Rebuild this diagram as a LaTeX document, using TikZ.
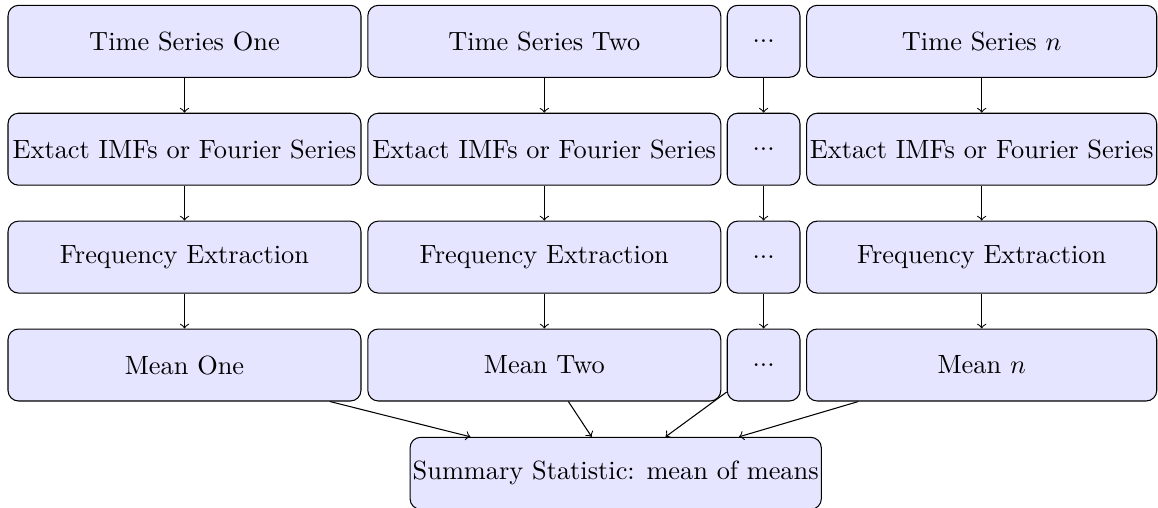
\documentclass[tikz,border=0pt]{standalone}
\usetikzlibrary{arrows}
\begin{document}
\begin{tikzpicture}[x=0.37936pt, y=-0.37936pt,
  box/.style={draw, fill=blue!10, rounded corners, minimum height=27.3pt, inner sep=1pt},
  wide/.style={box, minimum width=133.9pt},
  lastcol/.style={box, minimum width=132.8pt},
  narrow/.style={box, minimum width=27.6pt},
  flow/.style={->}]
\useasboundingbox (0,0) rectangle (1158,507);
% column centres (x) and row centres (y)
\def\ca{184.5}\def\cb{544.3}\def\cc{763.6}\def\cd{981.7}
\def\ra{41.3}\def\rb{149.2}\def\rc{257.1}\def\rd{365}
% row 1: inputs
\node[wide] (t1) at (\ca,\ra) {Time Series One};
\node[wide] (t2) at (\cb,\ra) {Time Series Two};
\node[narrow] (t3) at (\cc,\ra) {...};
\node[lastcol] (t4) at (\cd,\ra) {Time Series $n$};
% row 2: decomposition
\node[wide] (e1) at (\ca,\rb) {Extact IMFs or Fourier Series};
\node[wide] (e2) at (\cb,\rb) {Extact IMFs or Fourier Series};
\node[narrow] (e3) at (\cc,\rb) {...};
\node[lastcol] (e4) at (\cd,\rb) {Extact IMFs or Fourier Series};
% row 3: frequencies
\node[wide] (f1) at (\ca,\rc) {Frequency Extraction};
\node[wide] (f2) at (\cb,\rc) {Frequency Extraction};
\node[narrow] (f3) at (\cc,\rc) {...};
\node[lastcol] (f4) at (\cd,\rc) {Frequency Extraction};
% row 4: means
\node[wide] (m1) at (\ca,\rd) {Mean One};
\node[wide] (m2) at (\cb,\rd) {Mean Two};
\node[narrow] (m3) at (\cc,\rd) {...};
\node[lastcol] (m4) at (\cd,\rd) {Mean $n$};
% summary
\node[box, minimum width=153.5pt] (s) at (615.7,473.3) {Summary Statistic: mean of means};
% vertical flow in each column, then every mean into the summary
\foreach \i in {1,2,3,4}{
  \draw[flow] (t\i) -- (e\i);
  \draw[flow] (e\i) -- (f\i);
  \draw[flow] (f\i) -- (m\i);
  \draw[flow] (m\i) -- (s);
}
\end{tikzpicture}
\end{document}
